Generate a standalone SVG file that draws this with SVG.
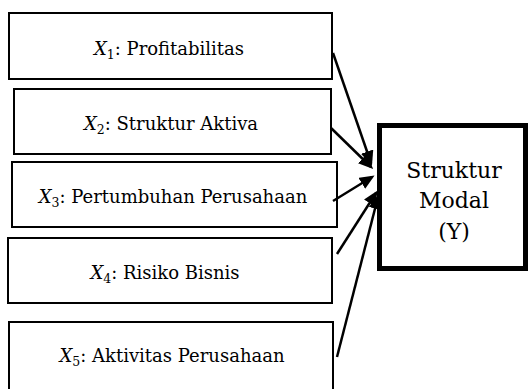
<svg xmlns="http://www.w3.org/2000/svg" width="529" height="389" viewBox="0 0 529 389">
<style>
.box{fill:#fff;stroke:#000;stroke-width:2}
.ybox{fill:#fff;stroke:#000;stroke-width:5}
.t{font-family:"DejaVu Serif","Liberation Serif",serif;font-size:18px;fill:#000;text-anchor:middle}
.x{font-style:italic}
.sub{font-size:12.5px}
.ty{font-family:"DejaVu Serif","Liberation Serif",serif;font-size:22px;fill:#000;text-anchor:middle}
.c{stroke:#000;stroke-width:2.5;fill:none;marker-end:url(#ah)}
</style>
<defs>
<marker id="ah" markerUnits="userSpaceOnUse" markerWidth="15" markerHeight="13" refX="12" refY="6.5" orient="auto">
<path d="M0,0 L15,6.5 L0,13 z" fill="#000"/>
</marker>
</defs>
<rect width="529" height="389" fill="#fff"/>
<g id="x1"><rect class="box" x="9" y="13" width="323" height="66"/><text class="t" x="169" y="55"><tspan class="x">X</tspan><tspan class="sub" dy="4">1</tspan><tspan dy="-4">: Profitabilitas</tspan></text></g>
<g id="x2"><rect class="box" x="14" y="89" width="317" height="65"/><text class="t" x="171" y="130"><tspan class="x">X</tspan><tspan class="sub" dy="4">2</tspan><tspan dy="-4">: Struktur Aktiva</tspan></text></g>
<g id="x3"><rect class="box" x="12" y="162" width="325" height="65"/><text class="t" x="173" y="203"><tspan class="x">X</tspan><tspan class="sub" dy="4">3</tspan><tspan dy="-4">: Pertumbuhan Perusahaan</tspan></text></g>
<g id="x4"><rect class="box" x="8" y="238" width="324" height="65"/><text class="t" x="165" y="279"><tspan class="x">X</tspan><tspan class="sub" dy="4">4</tspan><tspan dy="-4">: Risiko Bisnis</tspan></text></g>
<g id="x5"><rect class="box" x="9" y="322" width="324" height="70"/><text class="t" x="172" y="362"><tspan class="x">X</tspan><tspan class="sub" dy="4">5</tspan><tspan dy="-4">: Aktivitas Perusahaan</tspan></text></g>
<g id="y"><rect class="ybox" x="379.5" y="125.5" width="146" height="143"/>
<text class="ty" x="454" y="178">Struktur</text>
<text class="ty" x="454" y="208">Modal</text>
<text class="ty" x="454" y="239">(Y)</text></g>
<g id="connectors">
<line class="c" x1="333" y1="53" x2="371" y2="163"/>
<line class="c" x1="331" y1="128" x2="371" y2="167"/>
<line class="c" x1="333" y1="201" x2="372" y2="177"/>
<line class="c" x1="337" y1="254" x2="376" y2="193"/>
<line class="c" x1="337" y1="357" x2="378" y2="197"/>
</g>
</svg>
